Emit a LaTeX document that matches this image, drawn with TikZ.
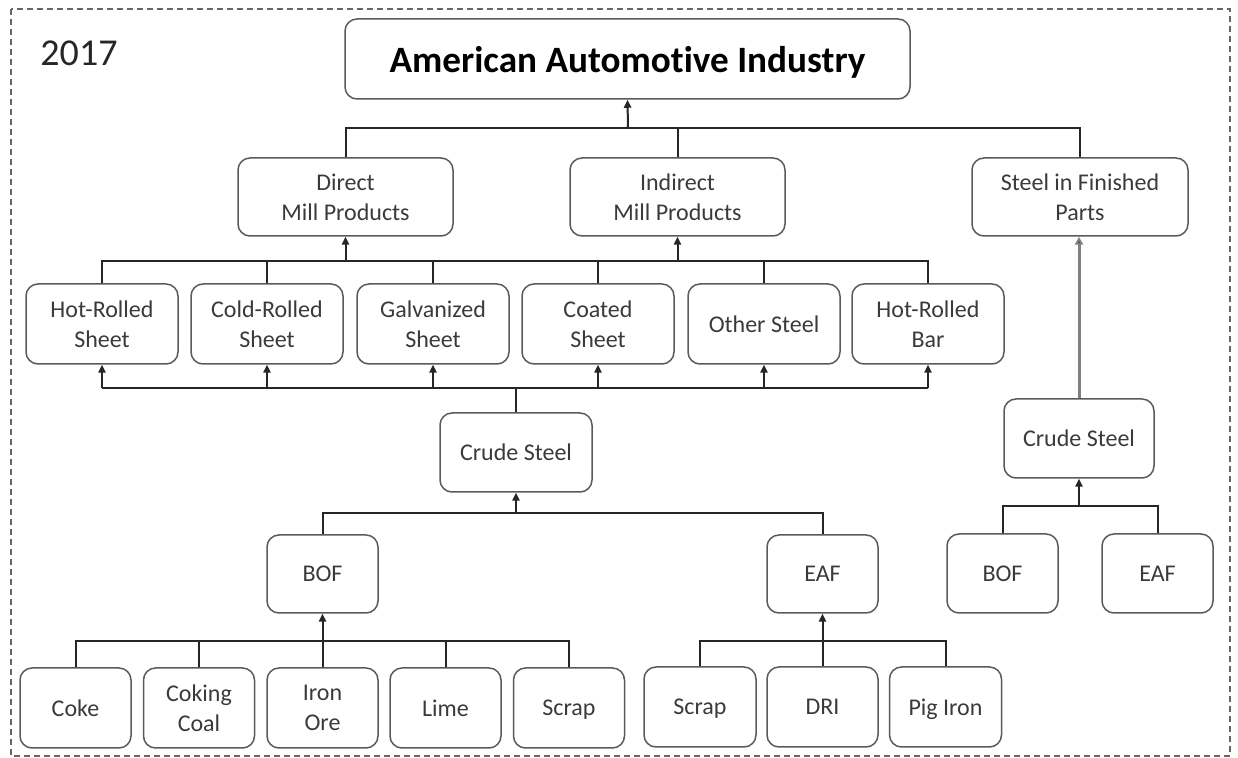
\documentclass[tikz,border=0pt]{standalone}
\usepackage{fontspec}
\setmainfont{Carlito}[Ligatures={NoCommon}]
\usetikzlibrary{arrows.meta}
\definecolor{boxline}{HTML}{5A5A5A}
\definecolor{txt}{HTML}{3A3A3A}
\tikzset{
  box/.style={draw=boxline, line width=0.75pt, rounded corners=6pt, align=center,
    text=txt, font=\fontsize{12}{15}\selectfont, inner sep=0pt, text depth=0pt},
  conn/.style={draw=black!85, line width=1pt},
  arr/.style={conn, -{Triangle[length=4pt,width=3.6pt]}},
  arrgrey/.style={draw=black!50, line width=1.5pt, -{Triangle[length=4pt,width=4pt,fill=black]}},
}
\begin{document}
\begin{tikzpicture}[x=0.5pt,y=-0.5pt]
\useasboundingbox (0,0) rectangle (1238,758);
\draw[black!60, line width=0.75pt, dash pattern=on 3pt off 2pt] (11,9) rectangle (1230,756);
\node[font=\fontsize{19}{22}\selectfont, text=black!85] (year) at (79,53) {2017};
% top
\node[box, minimum width=282.5pt, minimum height=40pt, text=black, font=\fontsize{18.6}{22}\selectfont\bfseries] (top) at (627.5,59) {American Automotive Industry};
% level 2
\node[box, minimum width=107.5pt, minimum height=39pt] (dmp) at (345.5,197) {Direct\\Mill Products};
\node[box, minimum width=107.5pt, minimum height=39pt] (imp) at (677.5,197) {Indirect\\Mill Products};
\node[box, minimum width=108pt, minimum height=39pt] (sfp) at (1080,197) {Steel in Finished\\Parts};
% level 3
\foreach \n/\x/\t in {hrs/102/{Hot-Rolled\\Sheet}, crs/267/{Cold-Rolled\\Sheet}, gs/433/{Galvanized\\Sheet}, cs/598/{Coated\\Sheet}, os/764/{Other Steel}, hrb/928/{Hot-Rolled\\Bar}}
  \node[box, minimum width=76pt, minimum height=40pt] (\n) at (\x,324) {\t};
% crude steel
\node[box, minimum width=76pt, minimum height=39.5pt] (crude) at (516,452.5) {Crude Steel};
\node[box, minimum width=55.5pt, minimum height=39pt] (bof) at (322.5,574) {BOF};
\node[box, minimum width=55.5pt, minimum height=39pt] (eaf) at (822.5,574) {EAF};
% bottom row
\node[box, minimum width=55.5pt, minimum height=40pt] (coke) at (75.5,708) {Coke};
\node[box, minimum width=55.5pt, minimum height=40pt] (coal) at (199,708) {Coking\\Coal};
\node[box, minimum width=55.5pt, minimum height=40pt] (ore) at (322.5,708) {Iron\\Ore};
\node[box, minimum width=55.5pt, minimum height=40pt] (lime) at (445.5,708) {Lime};
\node[box, minimum width=55.5pt, minimum height=40pt] (scrapa) at (569,708) {Scrap};
\node[box, minimum width=56pt, minimum height=40pt] (scrapb) at (700,707) {Scrap};
\node[box, minimum width=55.5pt, minimum height=40pt] (dri) at (822.5,707) {DRI};
\node[box, minimum width=56pt, minimum height=40pt] (pig) at (945.5,707) {Pig Iron};
% right branch
\node[box, minimum width=75pt, minimum height=39.5pt] (crudeb) at (1079,438.5) {Crude Steel};
\node[box, minimum width=55.5pt, minimum height=39.5pt] (bofb) at (1002.5,573.5) {BOF};
\node[box, minimum width=55.5pt, minimum height=39.5pt] (eafb) at (1157.5,573.5) {EAF};
% bus coordinates
\coordinate (bus1) at (628,128);
\coordinate (bus2) at (516,261);
\coordinate (bus3) at (516,388);
\coordinate (bus4) at (516,513);
\coordinate (bus5) at (322.5,641);
\coordinate (bus6) at (822.5,641);
\coordinate (bus7) at (1079,506);
% connectors top
\draw[conn] (dmp.north) |- (bus1) -| (sfp.north);
\draw[conn] (imp.north) -- (imp.north |- bus1);
\draw[arr] (bus1) -- (top.south);
% level 3 to level 2
\draw[conn] (hrs.north) |- (bus2) -| (hrb.north);
\foreach \n in {crs,gs,cs,os} \draw[conn] (\n.north) -- (\n.north |- bus2);
\draw[arr] (dmp.south |- bus2) -- (dmp.south);
\draw[arr] (imp.south |- bus2) -- (imp.south);
% crude to level 3
\draw[conn] (hrs.south |- bus3) -- (hrb.south |- bus3);
\draw[conn] (crude.north) -- (bus3);
\foreach \n in {hrs,crs,gs,cs,os,hrb} \draw[arr] (\n.south |- bus3) -- (\n.south);
% bof/eaf to crude
\draw[conn] (bof.north) |- (bus4) -| (eaf.north);
\draw[arr] (bus4) -- (crude.south);
% raw inputs to BOF
\draw[conn] (coke.north) |- (bus5) -| (scrapa.north);
\draw[conn] (coal.north) -- (coal.north |- bus5);
\draw[conn] (lime.north) -- (lime.north |- bus5);
\draw[arr] (ore.north) -- (bof.south);
% inputs to EAF
\draw[conn] (scrapb.north) |- (bus6) -| (pig.north);
\draw[arr] (dri.north) -- (eaf.south);
% right branch
\draw[conn] (bofb.north) |- (bus7) -| (eafb.north);
\draw[arr] (bus7) -- (crudeb.south);
\draw[arrgrey] (crudeb.north) -- (crudeb.north |- sfp.south);
\end{tikzpicture}
\end{document}
